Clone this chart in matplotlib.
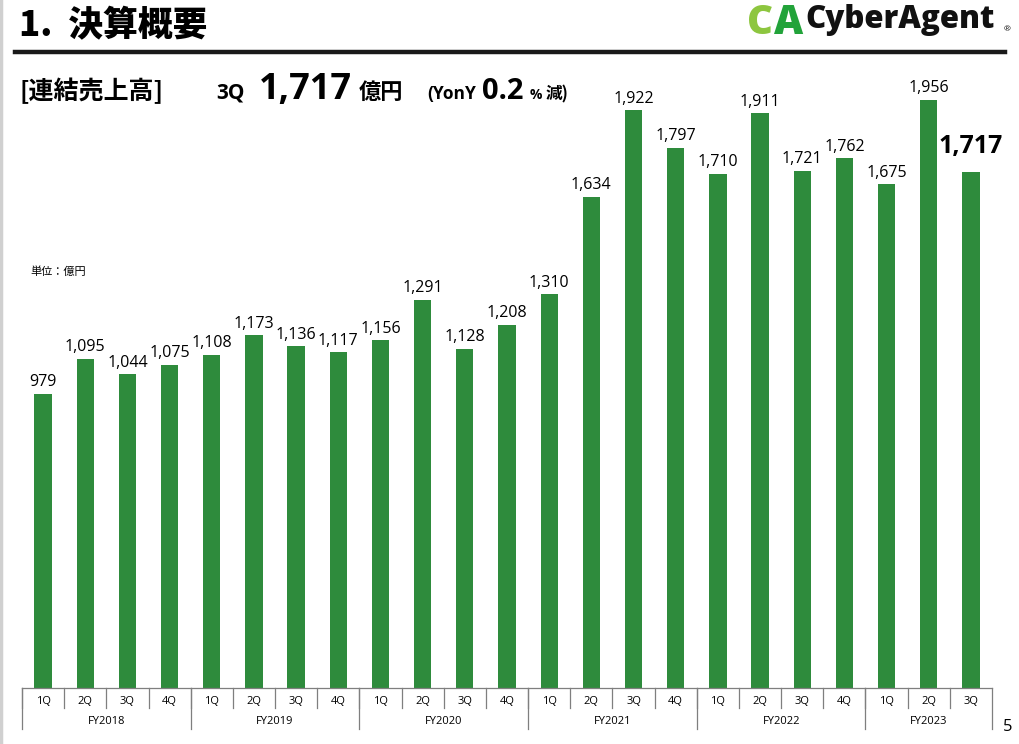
import numpy as np
import matplotlib.pyplot as plt

plt.rcParams['font.family'] = ['Open Sans', 'Noto Sans CJK JP', 'DejaVu Sans']

# data (億円)
quarters = ["1Q", "2Q", "3Q", "4Q"] * 5 + ["1Q", "2Q", "3Q"]
years = ["FY2018", "FY2019", "FY2020", "FY2021", "FY2022", "FY2023"]
quarters_per_year = [4, 4, 4, 4, 4, 3]
sales = [979, 1095, 1044, 1075,
         1108, 1173, 1136, 1117,
         1156, 1291, 1128, 1208,
         1310, 1634, 1922, 1797,
         1710, 1911, 1721, 1762,
         1675, 1956, 1717]

GREEN = "#2e8b3c"
W, H = 1020, 744

fig = plt.figure(figsize=(W / 100, H / 100), dpi=100)


def fx(px):
    return px / W


def fy(py):
    return 1 - py / H


# axes placed in pixel terms
left, right, base, top = 22, 992, 687.7, 86.7
ax = fig.add_axes([fx(left), fy(base), fx(right - left), (base - top) / H])
x = np.arange(len(sales))
ax.bar(x, sales, width=0.41, color=GREEN)
ax.set_xlim(-0.5, len(sales) - 0.5)
ax.set_ylim(0, 2000)
for s in ["left", "right", "top"]:
    ax.spines[s].set_visible(False)
ax.spines["bottom"].set_color("#7f7f7f")
ax.spines["bottom"].set_linewidth(0.9)
ax.set_yticks([])
ax.set_xticks([])

# value labels
for i, v in enumerate(sales):
    if i == len(sales) - 1:
        ax.annotate(f"{v:,}", (i, v), xytext=(0, 9), textcoords="offset points",
                    ha="center", va="bottom", fontsize=18, fontweight="bold")
    else:
        ax.annotate(f"{v:,}", (i, v), xytext=(0, 2.5), textcoords="offset points",
                    ha="center", va="bottom", fontsize=11.5)

# category axis (two rows)
trans = ax.get_xaxis_transform()
short = -20 / (base - top)
tall = -41 / (base - top)
row1 = -14 / (base - top)
row2 = -34 / (base - top)
for i, q in enumerate(quarters):
    ax.text(i, row1, q, transform=trans, ha="center", va="center", fontsize=8)
    ax.plot([i - 0.5, i - 0.5], [0, short], transform=trans, color="#7f7f7f",
            lw=0.9, clip_on=False)
start = 0
for yname, n in zip(years, quarters_per_year):
    ax.plot([start - 0.5, start - 0.5], [0, tall], transform=trans,
            color="#7f7f7f", lw=0.9, clip_on=False)
    ax.text(start - 0.5 + n / 2, row2, yname, transform=trans, ha="center",
            va="center", fontsize=8)
    start += n
ax.plot([start - 0.5, start - 0.5], [0, tall], transform=trans,
        color="#7f7f7f", lw=0.9, clip_on=False)

jp = ['Noto Sans CJK JP', 'DejaVu Sans']

# unit note
fig.text(fx(30), fy(272), "単位：億円", fontsize=8, family=jp, va="center")

# slide header
fig.text(fx(19), fy(36), "1.  決算概要", fontsize=25, fontweight="heavy",
         family=jp, va="baseline")
fig.add_artist(plt.Line2D([fx(15), fx(1005)], [fy(52), fy(52)], color="#1a1a1a",
                          lw=3.2))
fig.add_artist(plt.Line2D([fx(1.5), fx(1.5)], [0, 1], color="#d0d0d0", lw=2.5))

# logo
fig.text(fx(747), fy(34), "C", fontsize=29, fontweight="heavy", color="#8dc63f",
         family=['Open Sans'], va="baseline")
fig.text(fx(774), fy(34), "A", fontsize=29, fontweight="heavy", color="#22a33a",
         family=['Open Sans'], va="baseline")
fig.text(fx(805), fy(28), "CyberAgent", fontsize=22.5, fontweight="heavy",
         color="#111111", family=['Open Sans'], va="baseline")
fig.text(fx(1004), fy(31), "®", fontsize=6, color="#111111", va="baseline")

# headline figure
yb = fy(99)
fig.text(fx(20), yb, "[連結売上高]", fontsize=18, fontweight="bold", family=jp,
         va="baseline")
fig.text(fx(216), yb, "3Q", fontsize=15, fontweight="bold", va="baseline")
fig.text(fx(259), yb, "1,717", fontsize=26, fontweight="bold", va="baseline")
fig.text(fx(359), yb, "億円", fontsize=16, fontweight="bold", family=jp,
         va="baseline")
fig.text(fx(427), yb, "(YonY", fontsize=12.5, fontweight="bold", va="baseline")
fig.text(fx(482), yb, "0.2", fontsize=21, fontweight="bold", va="baseline")
fig.text(fx(530), yb, "%", fontsize=10, fontweight="bold", va="baseline")
fig.text(fx(546), yb, "減)", fontsize=12, fontweight="bold", family=jp,
         va="baseline")

# page number
fig.text(fx(1003), fy(731), "5", fontsize=12, va="baseline")

fig.savefig("out.png", dpi=100)
